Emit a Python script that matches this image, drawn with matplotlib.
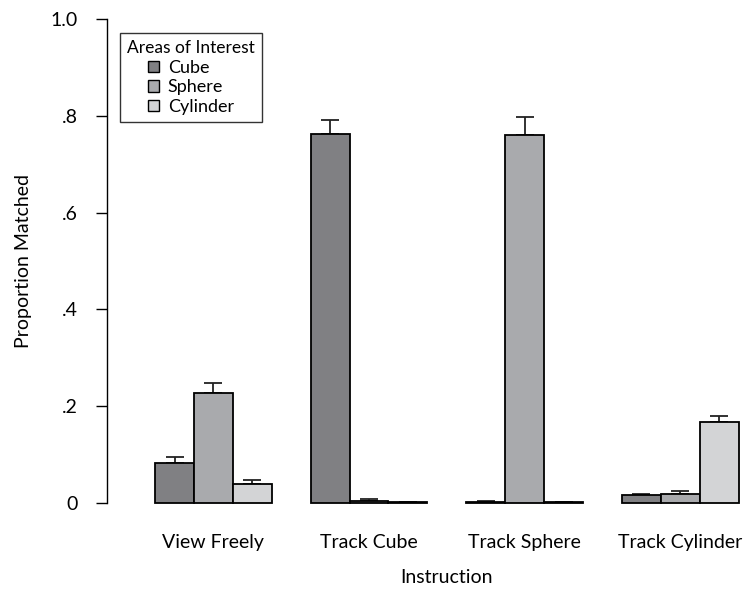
import matplotlib
import numpy as np

matplotlib.use('Agg')
import matplotlib.pyplot as plt
from matplotlib.patches import Patch

plt.rcParams['font.family'] = ['Lato', 'DejaVu Sans']

instructions = ["View Freely", "Track Cube", "Track Sphere", "Track Cylinder"]
areas = ["Cube", "Sphere", "Cylinder"]
colors = ["#808083", "#a9aaad", "#d3d4d6"]

# mean proportion matched per area, one list per area across instructions
cube_mean = [0.083, 0.762, 0.003, 0.016]
sphere_mean = [0.227, 0.005, 0.760, 0.019]
cylinder_mean = [0.039, 0.001, 0.001, 0.168]
# standard errors (upper bars only)
cube_err = [0.012, 0.030, 0.001, 0.002]
sphere_err = [0.021, 0.003, 0.037, 0.005]
cylinder_err = [0.008, 0.001, 0.001, 0.011]

means = [cube_mean, sphere_mean, cylinder_mean]
errs = [cube_err, sphere_err, cylinder_err]

fig = plt.figure(figsize=(7.45, 5.9), dpi=100)
ax = fig.add_axes([0.1436, 0.1475, 0.8564, 0.8203])

x = np.arange(len(instructions))
width = 0.25
for i, (m, e, c) in enumerate(zip(means, errs, colors)):
    pos = x + (i - 1) * width
    ax.bar(pos, m, width, color=c, edgecolor="black", linewidth=1.3,
           clip_on=False, zorder=3)
    ax.errorbar(pos, m, yerr=[np.zeros(len(m)), e], fmt="none",
                ecolor="#222222", elinewidth=1.3, capsize=6.5, capthick=1.3,
                clip_on=False, zorder=2)

ax.set_xlim(-0.684, 3.416)
ax.set_ylim(0, 1.0)
ax.set_yticks([0, 0.2, 0.4, 0.6, 0.8, 1.0])
ax.set_yticklabels(["0", ".2", ".4", ".6", ".8", "1.0"], fontsize=14)
ax.set_xticks(x)
ax.set_xticklabels(instructions, fontsize=14)
ax.tick_params(axis="x", length=0, pad=22)
ax.tick_params(axis="y", length=8, width=1, pad=13, direction="out")

for side in ("top", "right", "bottom"):
    ax.spines[side].set_visible(False)
ax.spines["left"].set_bounds(0, 1.0)
ax.spines["left"].set_linewidth(1)

ax.set_ylabel("Proportion Matched", fontsize=14)
ax.yaxis.set_label_coords(-0.1176, 0.5)
ax.set_xlabel("Instruction", fontsize=14)
ax.xaxis.set_label_coords((447 - 107) / 638, -0.136)

handles = [Patch(facecolor=c, edgecolor="black", linewidth=1, label=a)
           for a, c in zip(areas, colors)]
leg = ax.legend(handles=handles, title="Areas of Interest", loc="upper left",
                bbox_to_anchor=(0.02, 0.971), borderaxespad=0,
                fontsize=13, title_fontsize=12.5,
                frameon=True, fancybox=False, edgecolor="black",
                handlelength=0.6, handleheight=0.6, handletextpad=0.5,
                labelspacing=0.2, borderpad=0.4)
leg.get_frame().set_linewidth(1)

fig.savefig("out.png", dpi=100)
